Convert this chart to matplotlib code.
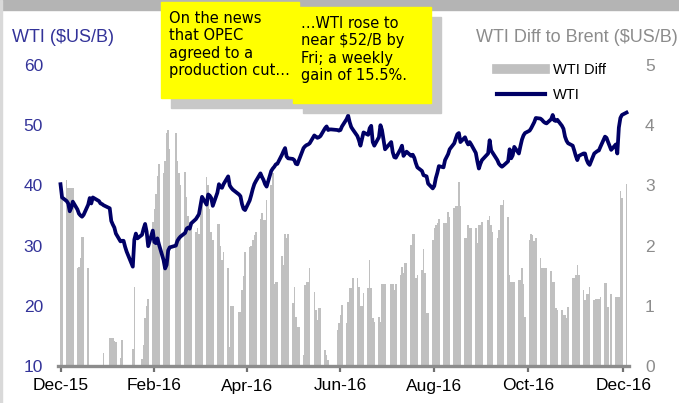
import pandas as pd
import matplotlib
matplotlib.use('Agg')
import matplotlib.pyplot as plt
import matplotlib.dates as mdates
from matplotlib.lines import Line2D
from matplotlib.patches import Rectangle

# trading days shown on the chart (US market holidays left out)
holidays = ['2015-12-25', '2016-01-01', '2016-01-18', '2016-02-15', '2016-03-25',
            '2016-05-30', '2016-07-04', '2016-09-05', '2016-11-24']
dates = pd.bdate_range('2015-12-03', '2016-12-05')
dates = dates[~dates.isin(pd.to_datetime(holidays))]

# WTI spot, $US/B (left axis)
wti = (
    [40.2, 38.0, 37.4, 37.0, 35.7, 36.3, 37.3, 36.0, 35.3, 35.0, 34.8, 35.1, 36.8, 37.9,
     37.0, 38.0, 37.4, 37.0, 36.9, 36.7]                                     # Dec-15
    + [36.2, 34.1, 33.5, 33.0, 32.0, 30.7, 30.8, 30.8, 29.8, 29.0, 26.5, 31.0, 32.0, 31.2,
       31.8, 32.8, 33.6, 32.3, 29.9]                                         # Jan-16
    + [32.5, 30.6, 30.4, 31.2, 30.2, 27.6, 26.2, 26.8, 29.2, 29.7, 30.0, 30.8, 31.2, 31.5,
       32.1, 32.8, 33.0, 32.8, 33.7, 34.4]                                   # Feb-16
    + [34.8, 35.2, 36.7, 38.1, 36.8, 38.5, 38.3, 37.9, 36.6, 38.8, 40.2, 39.7, 39.6, 40.2,
       41.5, 40.0, 39.6, 39.3, 38.5, 38.2, 36.9, 36.1]                       # Mar-16
    + [35.9, 37.5, 38.4, 39.4, 40.2, 40.7, 42.0, 41.4, 40.9, 40.2, 39.8, 42.4, 42.8, 43.1,
       43.5, 43.6, 45.1, 45.7, 46.2, 44.8, 44.5]                             # Apr-16
    + [44.4, 44.2, 43.6, 43.5, 44.2, 46.2, 46.5, 46.7, 46.8, 47.0, 48.3, 48.1, 47.9, 48.0,
       48.2, 49.5, 49.8, 49.2, 49.3, 49.3, 49.2]                             # May-16
    + [49.1, 49.2, 49.8, 51.0, 51.6, 50.5, 49.7, 49.3, 48.2, 47.5, 46.6, 47.7, 48.8, 48.4,
       49.5, 49.9, 47.2, 46.6, 48.0, 50.0, 49.2, 47.6]                       # Jun-16
    + [46.0, 47.2, 45.5, 44.7, 44.6, 46.0, 46.6, 44.9, 45.3, 45.6, 44.9, 45.1, 44.6, 43.7,
       43.0, 42.4, 41.7, 41.6, 41.5, 40.3]                                   # Jul-16
    + [39.5, 39.9, 41.2, 42.1, 43.2, 43.0, 44.2, 44.7, 45.2, 46.0, 47.0, 47.8, 48.5, 48.7,
       47.2, 48.0, 47.3, 46.8, 47.2, 46.8, 45.4, 44.0, 42.8]                 # Aug-16
    + [43.6, 44.2, 45.3, 47.5, 45.8, 45.4, 44.2, 43.6, 43.3, 43.1, 43.3, 44.0, 46.0, 44.5,
       45.0, 46.4, 45.3, 46.5, 47.6, 48.3, 48.7]                             # Sep-16
    + [49.1, 49.5, 50.0, 50.5, 51.2, 51.1, 50.9, 50.6, 50.4, 50.3, 51.0, 51.7, 50.8, 50.7,
       50.9, 49.9, 49.4, 48.1, 47.4, 47.0, 46.6]                             # Oct-16
    + [45.8, 44.9, 44.2, 44.9, 45.3, 45.3, 44.3, 43.7, 43.4, 45.3, 45.5, 45.7, 45.8, 46.4,
       48.1, 47.9, 47.2, 45.9, 46.8, 45.3, 49.6]                             # Nov-16
    + [51.2, 51.7, 52.1]                                                     # Dec-16
)

# WTI discount to Brent, $US/B (right axis)
wti_diff = (
    [2.85, 2.9, 3.09, 2.95, 2.95, 2.95, 2.95, 1.62, 1.65, 1.8, 2.15, 2.15, 1.62, 0,
     0, 0, 0, 0, 0, 0.22]
    + [0.46, 0.46, 0.46, 0.42, 0.40, 0.13, 0.43, 0, 0, 0, 0.29, 1.32, 0, 0,
       0.12, 0.35, 0.79, 1.0, 1.12]
    + [2.4, 2.6, 2.85, 3.15, 3.35, 3.2, 3.4, 3.87, 3.92, 3.6, 3.87, 3.4, 3.2, 3.0,
       3.23, 2.8, 2.5, 2.4, 2.3, 2.23]
    + [2.3, 2.2, 2.5, 2.7, 3.14, 3.0, 2.6, 2.23, 2.1, 2.36, 2.36, 2.0, 1.76, 1.9,
       1.62, 0.32, 0.99, 0.99, 0.9, 0.9, 1.26, 1.5]
    + [1.9, 1.98, 2.0, 2.09, 2.18, 2.23, 2.45, 2.54, 2.42, 2.42, 2.76, 3.0, 3.2, 1.37,
       1.4, 1.4, 1.82, 1.68, 2.2, 2.13, 2.19]
    + [1.04, 1.32, 0.82, 0.65, 0.65, 0.18, 1.34, 1.4, 1.4, 1.62, 1.23, 0.93, 0.76, 0.96,
       0.96, 0.27, 0.18, 0.1, 0, 0, 0.6]
    + [0.72, 0.85, 1.01, 0.71, 1.07, 1.29, 1.29, 1.46, 1.46, 1.32, 0.99, 0.99, 1.21, 1.29,
       1.76, 1.29, 0.79, 0.73, 0.82, 0.73, 1.37, 1.37]
    + [1.37, 1.37, 1.37, 1.26, 1.37, 1.51, 1.65, 1.54, 1.71, 1.71, 2.01, 2.2, 2.2, 1.46,
       1.51, 1.59, 1.95, 1.54, 0.88, 0.88]
    + [2.09, 2.29, 2.34, 2.37, 2.45, 2.37, 2.37, 2.37, 2.56, 2.48, 2.62, 2.65, 2.65, 3.06,
       2.65, 2.12, 2.12, 2.34, 2.29, 2.29, 2.29, 2.04, 2.34]
    + [2.34, 2.40, 2.42, 2.49, 2.34, 2.23, 2.12, 2.26, 2.67, 2.67, 2.76, 2.48, 1.51, 1.4,
       1.4, 1.4, 1.43, 1.43, 1.62, 1.37, 0.82]
    + [2.09, 2.2, 2.18, 2.07, 2.12, 1.79, 1.62, 1.62, 1.62, 1.62, 1.58, 1.4, 1.4, 0.96,
       0.93, 0.93, 0.85, 0.85, 0.79, 0.98, 1.46]
    + [1.46, 1.51, 1.68, 1.51, 1.26, 1.09, 1.2, 1.2, 1.32, 1.09, 1.12, 1.12, 1.12, 1.15,
       1.38, 1.38, 0.98, 1.19, 1.15, 1.15, 1.15]
    + [2.9, 2.79, 3.02]
)

tick_dates = pd.to_datetime(['2015-12-03', '2016-02-02', '2016-04-02', '2016-06-02',
                             '2016-08-02', '2016-10-02', '2016-12-03'])
tick_labels = ['Dec-15', 'Feb-16', 'Apr-16', 'Jun-16', 'Aug-16', 'Oct-16', 'Dec-16']

note_left = 'On the news\nthat OPEC\nagreed to a\nproduction cut…'
note_right = '…WTI rose to\nnear $52/B by\nFri; a weekly\ngain of 15.5%.'

assert len(dates) == len(wti) == len(wti_diff)

W, H = 679, 403
navy = '#000066'
bar_gray = '#c0c0c0'
blue_txt = '#333399'
gray_txt = '#8c8c8c'
plt.rcParams['font.family'] = ['Liberation Sans', 'DejaVu Sans']

fig = plt.figure(figsize=(W / 100, H / 100), dpi=100)
fig.patches.append(Rectangle((0, 1 - 10 / H), 1, 10 / H, transform=fig.transFigure,
                             color='#b4b4b4', zorder=0))
fig.patches.append(Rectangle((0, 0), 2 / W, 1, transform=fig.transFigure,
                             color='#d9d9d9', zorder=0))

ax = fig.add_axes([58 / W, 1 - 366 / H, (629 - 58) / W, (366 - 65) / H])
ax.patch.set_alpha(0)

# bars: WTI diff, right axis
ax.bar(dates, wti_diff, width=1.0, color=bar_gray, linewidth=0, zorder=1)
ax.set_ylim(0, 5)
ax.set_yticks([0, 1, 2, 3, 4, 5])

start = mdates.date2num(dates[0])
ax.set_xlim(start - 1.63, start + 369.6)
ax.set_xticks(tick_dates)
ax.set_xticklabels(tick_labels)
ax.tick_params(axis='x', length=4, width=1.6, color='#707070', pad=5, labelsize=12.5)
for s in ['top', 'left', 'right']:
    ax.spines[s].set_visible(False)
ax.spines['bottom'].set_color('#8c8c8c')
ax.spines['bottom'].set_linewidth(2.4)

# line: WTI, left axis
ax2 = ax.twinx()
ax2.plot(dates, wti, color=navy, lw=2.7, solid_joinstyle='round', zorder=3)
ax2.set_ylim(10, 60)
ax2.set_yticks([10, 20, 30, 40, 50, 60])
ax2.yaxis.tick_left()
ax2.tick_params(axis='y', length=0, pad=10.8, labelsize=12.5, labelcolor=blue_txt)
for s in ax2.spines.values():
    s.set_visible(False)

# twinx moves the first axis' ticks to the left; put them back on the right
ax.yaxis.tick_right()
ax.tick_params(axis='y', length=0, pad=11.5, labelsize=12.5, labelcolor=gray_txt)

fig.text(12 / W, 1 - 38 / H, 'WTI ($US/B)', color=blue_txt, fontsize=13,
         ha='left', va='center')
fig.text(678 / W, 1 - 38 / H, 'WTI Diff to Brent ($US/B)', color=gray_txt, fontsize=13,
         ha='right', va='center')

handles = [Line2D([], [], color=bar_gray, lw=7, label='WTI Diff'),
           Line2D([], [], color=navy, lw=3, label='WTI')]
ax2.legend(handles=handles, loc='upper left', bbox_to_anchor=(497 / W, 1 - 63 / H),
           bbox_transform=fig.transFigure, frameon=False, fontsize=10.5,
           handlelength=3.3, handletextpad=0.55, labelspacing=0.75,
           borderpad=0, borderaxespad=0)

# callout boxes with drop shadows
for (x0, y0, x1, y1), text in [((161, 2, 299, 98), note_left),
                               ((293, 7, 431, 103), note_right)]:
    fig.patches.append(Rectangle(((x0 + 10) / W, 1 - (y1 + 10) / H), (x1 - x0) / W,
                                 (y1 - y0) / H, transform=fig.transFigure,
                                 color='#c8c8c8', zorder=5))
    fig.patches.append(Rectangle((x0 / W, 1 - y1 / H), (x1 - x0) / W, (y1 - y0) / H,
                                 transform=fig.transFigure, color='#ffff00', zorder=6))
    fig.text((x0 + 8) / W, 1 - (y0 + 9) / H, text, fontsize=10.5, family='DejaVu Sans',
             ha='left', va='top', linespacing=1.2, zorder=7)

fig.savefig('out.png', dpi=100)
